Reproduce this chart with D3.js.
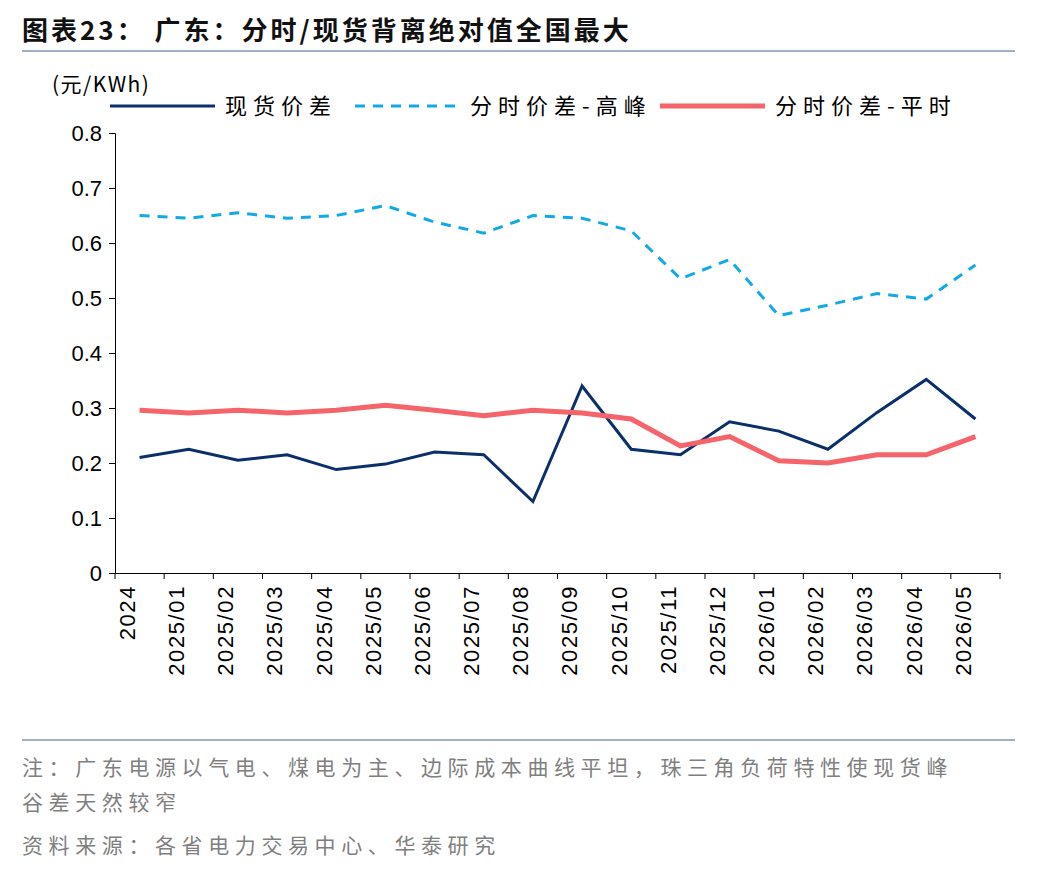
<!doctype html>
<html>
<head>
<meta charset="utf-8">
<script src="https://cdn.jsdelivr.net/npm/d3@7"></script>
<style>
body{margin:0;background:#fff;}
text{font-family:"Liberation Sans",Arial,sans-serif;}
.cn{font-family:"Noto Sans CJK SC",sans-serif;}
</style>
</head>
<body>
<script>
var categories = ['2024','2025/01','2025/02','2025/03','2025/04','2025/05','2025/06','2025/07','2025/08','2025/09','2025/10','2025/11','2025/12','2026/01','2026/02','2026/03','2026/04','2026/05'];
var spotSpread = [0.21,0.225,0.205,0.215,0.188,0.198,0.22,0.215,0.13,0.34,0.225,0.215,0.275,0.258,0.225,0.292,0.352,0.28];
var peakSpread = [0.65,0.645,0.655,0.645,0.65,0.668,0.638,0.618,0.65,0.645,0.622,0.535,0.57,0.468,0.487,0.508,0.498,0.56];
var flatSpread = [0.296,0.291,0.296,0.291,0.296,0.305,0.296,0.286,0.296,0.291,0.28,0.231,0.248,0.204,0.2,0.215,0.215,0.248];
var yTicks = [0,0.1,0.2,0.3,0.4,0.5,0.6,0.7,0.8];

var svg = d3.select('body').append('svg').attr('width',1048).attr('height',872);

svg.append('text').attr('class','cn').attr('x',22).attr('y',40)
  .style('font-size','26px').style('font-weight','bold').style('letter-spacing','3px').attr('fill','#111')
  .text('图表23：  广东：分时/现货背离绝对值全国最大');
svg.append('line').attr('x1',22).attr('x2',1015).attr('y1',51).attr('y2',51)
  .attr('stroke','#9fb3c8').attr('stroke-width',2);

var x = d3.scaleBand().domain(categories).range([115,1000]);
var y = d3.scaleLinear().domain([0,0.8]).range([573,133]);

var yAxis = svg.append('g').attr('transform','translate(115,0)')
  .call(d3.axisLeft(y).tickValues(yTicks).tickFormat(function(d){return d===0?'0':d3.format('.1f')(d);}).tickSize(6));
yAxis.selectAll('text').style('font-size','22px').attr('fill','#000').attr('dx','-4');
yAxis.selectAll('line,path').attr('stroke','#000');

var xAxis = svg.append('g').attr('transform','translate(0,573)')
  .call(d3.axisBottom(x).tickSize(0).tickSizeOuter(0));
xAxis.select('path').attr('stroke','#000');
xAxis.selectAll('text').style('font-size','22px').style('letter-spacing','1.6px').attr('fill','#000')
  .attr('transform','rotate(-90)').attr('text-anchor','end').attr('dx','-12').attr('dy','-0.35em');
svg.append('g').selectAll('line').data(categories.concat(['end'])).enter().append('line')
  .attr('x1',function(d,i){return 115+i*x.step();}).attr('x2',function(d,i){return 115+i*x.step();})
  .attr('y1',573).attr('y2',579).attr('stroke','#000');

svg.append('text').attr('class','cn').attr('x',52).attr('y',92).style('font-size','21px').style('letter-spacing','1.5px').text('(元/KWh)');

var series = [
  {name:'现货价差', values:spotSpread, color:'#0b2f6b', width:3, dash:null, lx:110},
  {name:'分时价差-高峰', values:peakSpread, color:'#12a9e8', width:3, dash:'10,8', lx:355},
  {name:'分时价差-平时', values:flatSpread, color:'#f4646a', width:5, dash:null, lx:660}
];
var line = d3.line().x(function(d,i){return x(categories[i])+x.bandwidth()/2;}).y(function(d){return y(d);});
series.forEach(function(s){
  svg.append('path').datum(s.values).attr('d',line).attr('fill','none')
    .attr('stroke',s.color).attr('stroke-width',s.width).attr('stroke-dasharray',s.dash);
  svg.append('line').attr('x1',s.lx).attr('x2',s.lx+105).attr('y1',106).attr('y2',106)
    .attr('stroke',s.color).attr('stroke-width',s.width).attr('stroke-dasharray',s.dash);
  svg.append('text').attr('class','cn').attr('x',s.lx+115).attr('y',114)
    .style('font-size','22px').style('letter-spacing','6px').text(s.name);
});

svg.append('line').attr('x1',22).attr('x2',1015).attr('y1',740).attr('y2',740)
  .attr('stroke','#9fb3c8').attr('stroke-width',2);
var notes = [['注：广东电源以气电、煤电为主、边际成本曲线平坦，珠三角负荷特性使现货峰',775],['谷差天然较窄',810],['资料来源：各省电力交易中心、华泰研究',853]];
notes.forEach(function(n){
  svg.append('text').attr('class','cn').attr('x',22).attr('y',n[1]).style('font-size','21px')
    .style('letter-spacing','5.6px').attr('fill','#7f7f7f').text(n[0]);
});
</script>
</body>
</html>
